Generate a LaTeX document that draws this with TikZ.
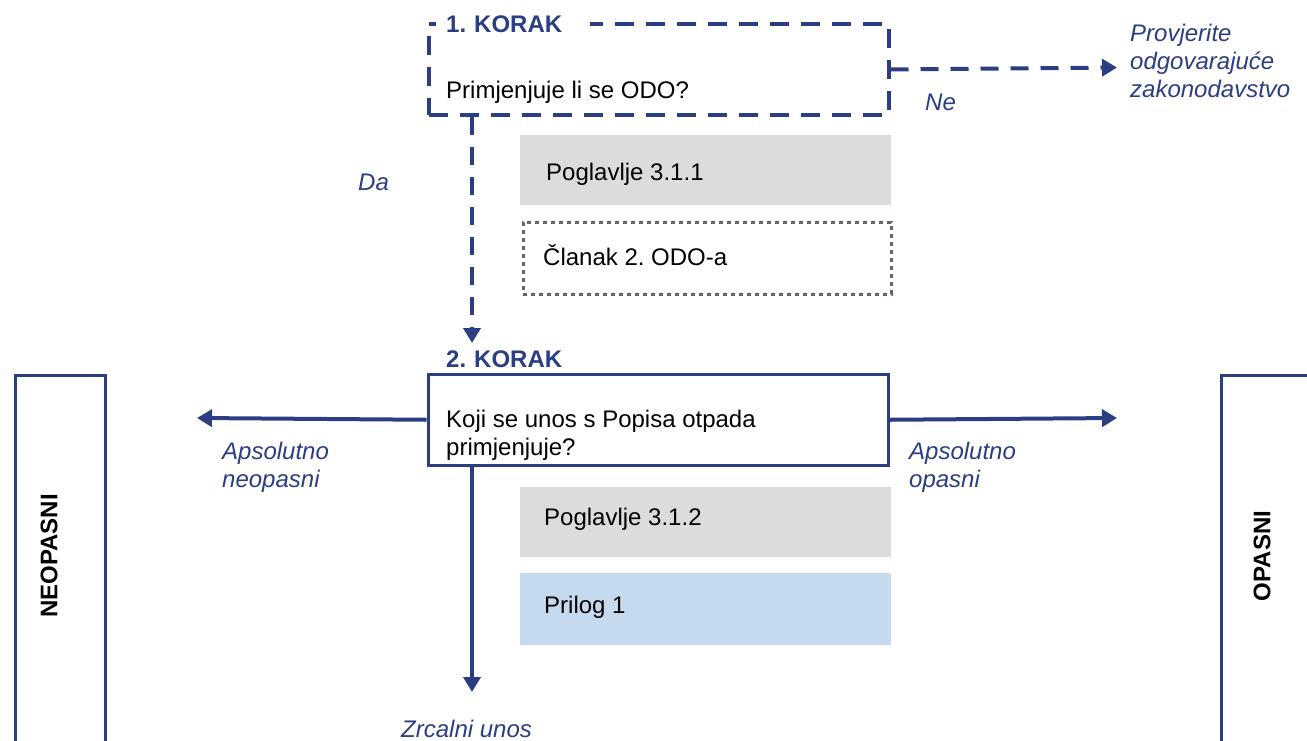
\documentclass[tikz,border=0pt]{standalone}
\usepackage{fontspec}
\setmainfont{Liberation Sans}
\usetikzlibrary{arrows.meta,calc}
\definecolor{dblue}{RGB}{43,62,130}
\definecolor{boxgray}{RGB}{220,220,220}
\definecolor{boxblue}{RGB}{197,218,238}
\definecolor{dotgray}{RGB}{92,100,120}
\frenchspacing
\begin{document}
\frenchspacing
\begin{tikzpicture}[x=1pt,y=-1pt,
  font=\fontsize{24}{28}\selectfont,
  stepbox/.style={draw=dblue, line width=3.5pt, minimum width=460pt, minimum height=91pt, anchor=north west, inner sep=0pt},
  dashbox/.style={stepbox, line width=4pt, dash pattern=on 19pt off 12pt},
  steptitle/.style={fill=white, anchor=base west, inner xsep=10pt, inner ysep=3pt, text width=134pt, text=dblue, font=\fontsize{24}{28}\selectfont\bfseries},
  bodytext/.style={anchor=base west, inner sep=0pt, align=left, text=black},
  refbox/.style={minimum width=371pt, minimum height=70pt, anchor=north west, inner sep=0pt},
  lbl/.style={anchor=base west, inner sep=0pt, align=left, text=dblue, font=\fontsize{24}{28}\selectfont\itshape},
  sidebox/.style={draw=dblue, line width=3.5pt, minimum width=90pt, minimum height=376pt, anchor=north west, inner sep=0pt},
  sidetext/.style={rotate=90, text=black, font=\fontsize{24}{28}\selectfont\bfseries},
  conn/.style={draw=dblue, line width=4pt, -{Triangle[length=15pt,width=17pt]}},
  dashconn/.style={conn, dash pattern=on 18pt off 12pt},
]
\useasboundingbox (0,0) rectangle (1307,740);

% Step 1
\node[dashbox] (step1) at (426.5,22) {};
\node[steptitle] (t1) at (436,32) {1. KORAK};
\node[bodytext] (q1) at (446,98) {Primjenjuje li se ODO?};

% reference boxes step 1
\node[refbox, fill=boxgray] (p311) at (520,135) {};
\node[bodytext] (p311t) at (546,180) {Poglavlje 3.1.1};
\node[refbox, draw=dotgray, line width=3pt, dash pattern=on 4pt off 4pt, minimum width=368pt, minimum height=72pt] (cl2) at (521.5,220.5) {};
\node[bodytext] (cl2t) at (543,265) {Članak 2. ODO-a};

% Step 2
\node[stepbox] (step2) at (426.5,372.5) {};
\node[steptitle] (t2) at (436,367) {2. KORAK};
\node[bodytext] (q2) at (446,455) {Koji se unos s Popisa otpada\\primjenjuje?};

% reference boxes step 2
\node[refbox, fill=boxgray] (p312) at (520,487) {};
\node[bodytext] (p312t) at (544,525) {Poglavlje 3.1.2};
\node[refbox, fill=boxblue, minimum height=72pt] (pr1) at (520,573) {};
\node[bodytext] (pr1t) at (544,613) {Prilog 1};

% side boxes
\node[sidebox] (neo) at (13.5,373.5) {};
\node[sidetext] (neot) at (49,556) {NEOPASNI};
\node[sidebox] (opa) at (1219.5,373.5) {};
\node[sidetext] (opat) at (1262,556) {OPASNI};

% coordinates for free ends
\coordinate (netip) at (1117,67.5);
\coordinate (datip) at (472,343);
\coordinate (lefttip) at (197,418);
\coordinate (righttip) at (1117,418);
\coordinate (downtip) at (472,692);

% connectors
\draw[dashconn] (step1.east) -- (netip);
\draw[dashconn] ($(step1.south west)+(45.5,0)$) -- (datip);
\draw[conn] (step2.west) -- (lefttip);
\draw[conn] (step2.east) -- (righttip);
\draw[conn] ($(step2.south west)+(45.5,0)$) -- (downtip);

% labels
\node[lbl] (ne) at (925,110) {Ne};
\node[lbl] (prov) at (1130,97) {Provjerite\\odgovarajuće\\zakonodavstvo};
\node[lbl] (da) at (358,190) {Da};
\node[lbl] (aneo) at (222,487) {Apsolutno\\neopasni};
\node[lbl] (aopa) at (909,487) {Apsolutno\\opasni};
\node[lbl] (zrc) at (401,737) {Zrcalni unos};
\end{tikzpicture}
\end{document}
